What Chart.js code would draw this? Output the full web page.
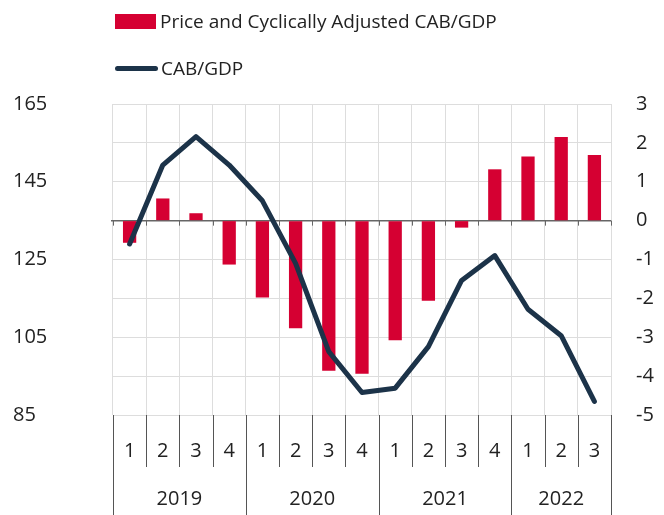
<!DOCTYPE html>
<html>
<head>
<meta charset="utf-8">
<script src="https://cdn.jsdelivr.net/npm/chart.js@4"></script>
<style>
  body { margin: 0; background: #fff; font-family: 'Open Sans', sans-serif; }
  #wrap { position: relative; width: 664px; height: 515px; }
  .leg { position: absolute; left: 115px; font-size: 19px; color: #222; display: flex; align-items: center; white-space: nowrap; }
  .box { width: 41px; height: 15px; background: #d50032; margin-right: 4px; }
  .ln { width: 43px; height: 5px; border-radius: 3px; background: #1c3349; margin-right: 3px; }
</style>
</head>
<body>
<div id="wrap">
  <canvas id="chart" width="664" height="515"></canvas>
  <div class="leg" style="top:8px"><div class="box"></div><span id="lab0"></span></div>
  <div class="leg" style="top:55px"><div class="ln"></div><span id="lab1"></span></div>
</div>
<script>
const quarters = ['1', '2', '3', '4', '1', '2', '3', '4', '1', '2', '3', '4', '1', '2', '3']
const years = ['2019', '2020', '2021', '2022']
const quartersPerYear = [4, 4, 4, 3]

const adjustedName = 'Price and Cyclically Adjusted CAB/GDP'
const cabName = 'CAB/GDP'

const adjusted = [-0.57, 0.57, 0.19, -1.13, -1.98, -2.77, -3.86, -3.94, -3.08, -2.06, -0.18, 1.32, 1.65, 2.15, 1.69]
const cab = [-0.6, 1.43, 2.16, 1.43, 0.51, -1.1, -3.37, -4.42, -4.31, -3.24, -1.54, -0.9, -2.28, -2.96, -4.65]

const leftTicks = { min: 85, max: 165, step: 20 }
const rightTicks = { min: -5, max: 3, step: 1 }

document.getElementById('lab0').textContent = adjustedName
document.getElementById('lab1').textContent = cabName

Chart.defaults.font.family = "'Open Sans', sans-serif"
Chart.defaults.font.size = 20
Chart.defaults.color = '#222'

// year centres in category index units
let yearCenters = []
let yearEdges = [0]
let acc = 0
for (let i = 0; i < quartersPerYear.length; i++) {
    yearCenters.push(acc + (quartersPerYear[i] - 1) / 2)
    acc += quartersPerYear[i]
    yearEdges.push(acc)
}

const separators = {
    id: 'separators',
    beforeDatasetsDraw(chart) {
        const c = chart.ctx
        const x = chart.scales.x
        const y1 = chart.scales.y1
        const area = chart.chartArea
        const w = x.getPixelForValue(1) - x.getPixelForValue(0)
        const y0 = y1.getPixelForValue(0)
        c.save()
        c.strokeStyle = '#666'
        c.lineWidth = 1.5
        c.beginPath()
        c.moveTo(area.left - 2, y0)
        c.lineTo(area.right, y0)
        c.stroke()
        c.lineWidth = 1
        for (let i = 0; i <= quarters.length; i++) {
            const px = Math.round(x.getPixelForValue(i) - w / 2) + 0.5
            c.beginPath()
            c.moveTo(px, y0)
            c.lineTo(px, y0 + 5)
            c.stroke()
        }
        c.restore()
    },
    afterDraw(chart) {
        const c = chart.ctx
        const x = chart.scales.x
        const area = chart.chartArea
        const w = x.getPixelForValue(1) - x.getPixelForValue(0)
        c.save()
        c.strokeStyle = '#555'
        c.lineWidth = 1
        for (let i = 0; i <= quarters.length; i++) {
            const px = Math.round(x.getPixelForValue(i) - w / 2) + 0.5
            const isYear = yearEdges.includes(i)
            c.beginPath()
            c.moveTo(px, area.bottom)
            c.lineTo(px, isYear ? chart.height : area.bottom + 52)
            c.stroke()
        }
        c.restore()
    }
}

const ctx = document.getElementById('chart').getContext('2d')

const chart = new Chart(ctx, {
    type: 'bar',
    data: {
        labels: quarters,
        datasets: [{
            type: 'bar',
            label: adjustedName,
            data: adjusted,
            backgroundColor: '#d50032',
            barPercentage: 0.4,
            categoryPercentage: 1,
            xAxisID: 'x',
            yAxisID: 'y1',
            order: 1
        }, {
            type: 'line',
            label: cabName,
            data: cab,
            borderColor: '#1c3349',
            borderWidth: 5,
            pointRadius: 0,
            borderCapStyle: 'round',
            borderJoinStyle: 'round',
            tension: 0,
            xAxisID: 'x',
            yAxisID: 'y1',
            order: 0
        }]
    },
    options: {
        responsive: false,
        animation: false,
        devicePixelRatio: 1,
        layout: { padding: { top: 104, left: 13, right: 0, bottom: 0 } },
        plugins: {
            legend: { display: false },
            tooltip: { enabled: false }
        },
        scales: {
            x: {
                type: 'category',
                position: 'bottom',
                weight: 0,
                offset: true,
                grid: { offset: true, color: '#dddddd', drawTicks: false },
                border: { display: false },
                ticks: { padding: 24, maxRotation: 0, autoSkip: false },
                afterFit(s) { s.height = 52 }
            },
            x2: {
                type: 'linear',
                position: 'bottom',
                weight: 1,
                offset: false,
                min: -0.5,
                max: quarters.length - 0.5,
                grid: { display: false, offset: false, drawTicks: false },
                border: { display: false },
                afterBuildTicks(s) { s.ticks = yearCenters.map(v => ({ value: v })) },
                ticks: {
                    padding: 20,
                    autoSkip: false,
                    maxRotation: 0,
                    callback: (v) => years[yearCenters.indexOf(v)]
                },
                afterFit(s) { s.height = 48 }
            },
            y: {
                position: 'left',
                min: leftTicks.min,
                max: leftTicks.max,
                grid: { display: false, drawTicks: false },
                border: { display: false },
                ticks: { stepSize: leftTicks.step, crossAlign: 'far', padding: 0 },
                afterFit(s) { s.width = 100 }
            },
            y1: {
                position: 'right',
                min: rightTicks.min,
                max: rightTicks.max,
                grid: { color: '#dddddd', drawTicks: false },
                border: { display: false },
                ticks: { stepSize: rightTicks.step, crossAlign: 'near', padding: 25 },
                afterFit(s) { s.width = 53 }
            }
        }
    },
    plugins: [separators]
})
</script>
</body>
</html>
